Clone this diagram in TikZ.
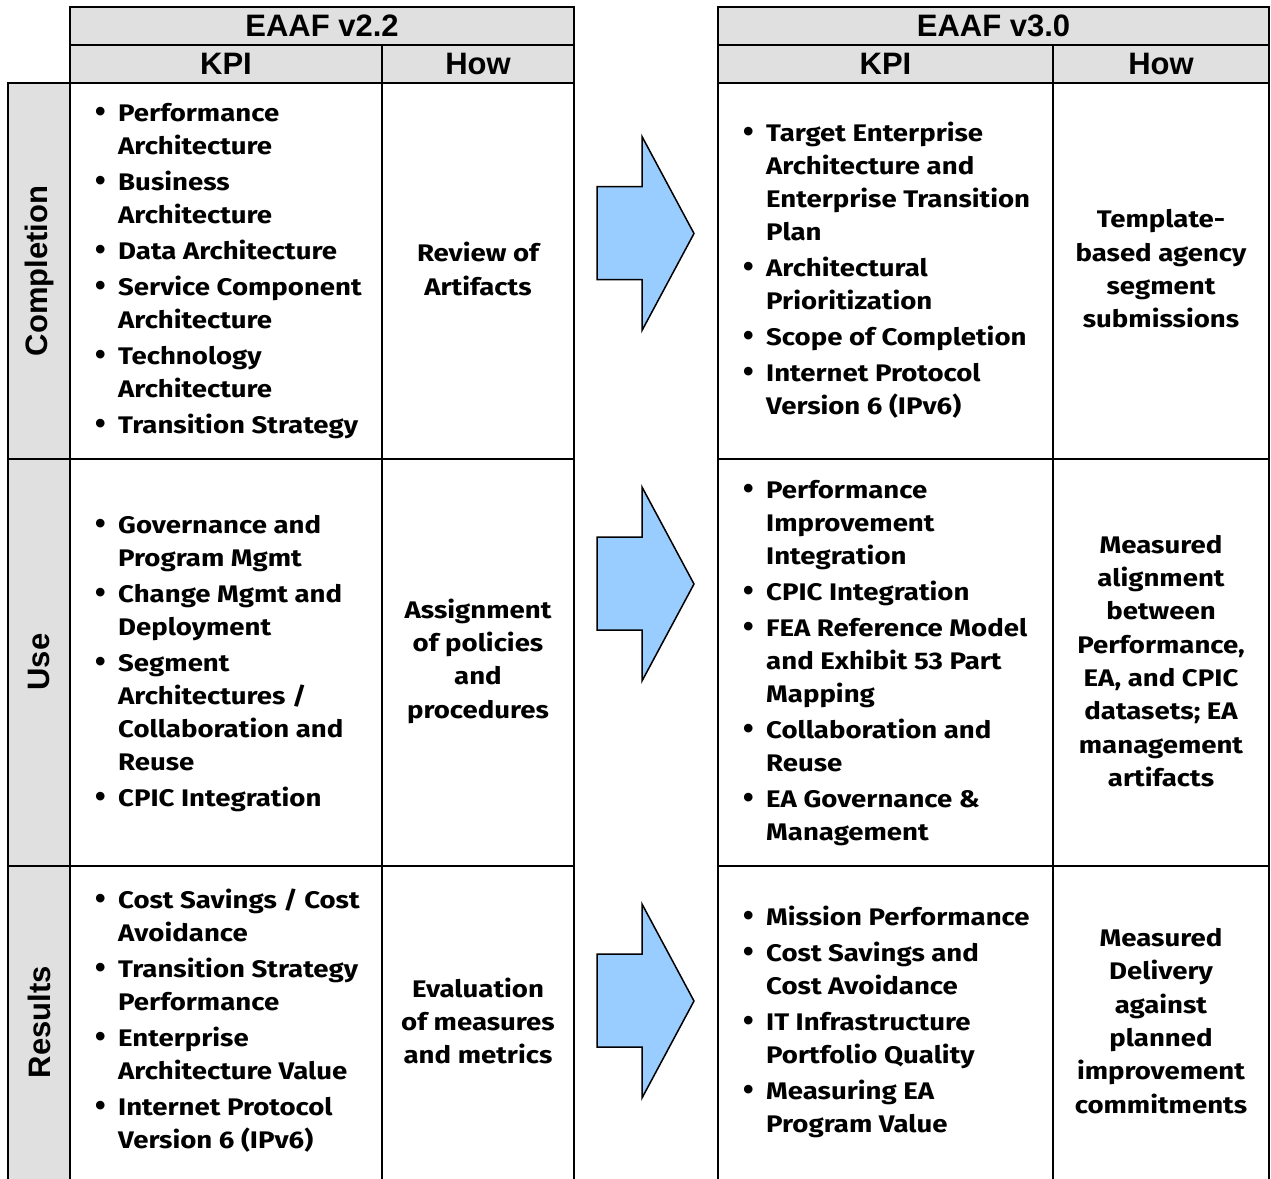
\documentclass[tikz,border=0pt]{standalone}
\usepackage{fontspec}
\setmainfont{Fira Sans}[FakeStretch=1.15]
\newfontfamily\arialf{Liberation Sans}[BoldFont={Liberation Sans Bold}]
\usepackage{array}
\definecolor{hdrgray}{HTML}{E0E0E0}
\definecolor{arrowblue}{HTML}{99CCFF}
\newcommand{\bu}{\makebox[23pt][l]{\arialf\fontsize{30}{30}\selectfont\textbullet}}
\newcommand{\kpilist}[1]{\begin{tabular}{@{}l@{}l@{}}#1\end{tabular}}
\begin{document}
\begin{tikzpicture}[x=1pt,y=-1pt,
  grid/.style={line width=2.8pt, line cap=rect},
  hdr/.style={font=\arialf\bfseries\fontsize{31}{36}\selectfont, inner sep=0pt},
  rowlab/.style={hdr, rotate=90},
  kpi/.style={font=\bfseries\fontsize{24}{33}\selectfont, inner sep=0pt, anchor=west, align=left},
  how/.style={font=\bfseries\fontsize{24}{33.3}\selectfont, inner sep=0pt, align=center},
  arr/.style={fill=arrowblue, draw=black, line width=1.5pt, line join=miter}]
\useasboundingbox (0,0) rectangle (1271,1178);
% fills
\fill[hdrgray] (70,7) rectangle (574,83);
\fill[hdrgray] (718,7) rectangle (1269,83);
\fill[hdrgray] (8,83) rectangle (70,1182);
% left grid
\draw[grid] (70,1182) -- (70,7) -- (574,7) -- (574,1182);
\draw[grid] (70,45) -- (574,45);
\draw[grid] (8,83) -- (574,83);
\draw[grid] (8,1182) -- (8,83);
\draw[grid] (382,45) -- (382,1182);
\draw[grid] (8,459) -- (574,459);
\draw[grid] (8,866) -- (574,866);
% right grid
\draw[grid] (718,1182) -- (718,7) -- (1269,7) -- (1269,1182);
\draw[grid] (718,45) -- (1269,45);
\draw[grid] (718,83) -- (1269,83);
\draw[grid] (1053,45) -- (1053,1182);
\draw[grid] (718,459) -- (1269,459);
\draw[grid] (718,866) -- (1269,866);
% arrows
\foreach \c in {233.5,584,1001}{
  \draw[arr] (694,\c) -- (642,\c-97) -- (642,\c-47) -- (597,\c-47) -- (597,\c+46)
    -- (642,\c+46) -- (642,\c+97) -- cycle;
}
% headers
\node[hdr] (h1) at (322,26) {EAAF v2.2};
\node[hdr] (h1k) at (226,64) {KPI};
\node[hdr] (h1h) at (478,64) {How};
\node[hdr] (h2) at (993.5,26) {EAAF v3.0};
\node[hdr] (h2k) at (885.5,64) {KPI};
\node[hdr] (h2h) at (1161,64) {How};
% row labels
\node[rowlab] (rc) at (39,271) {Completion};
\node[rowlab] (ru) at (39,662) {Use};
\node[rowlab] (rr) at (39,1022) {Results};
% left completion
\node[kpi] (lck) at (95,271) {\kpilist{%
\bu & Performance\\ & Architecture\\[3pt]
\bu & Business\\ & Architecture\\[3pt]
\bu & Data Architecture\\[3pt]
\bu & Service Component\\ & Architecture\\[3pt]
\bu & Technology\\ & Architecture\\[3pt]
\bu & Transition Strategy}};
\node[how] (lch) at (478,269) {Review of\\Artifacts};
% right completion
\node[kpi] (rck) at (743,271) {\kpilist{%
\bu & Target Enterprise\\ & Architecture and\\ & Enterprise Transition\\ & Plan\\[3pt]
\bu & Architectural\\ & Prioritization\\[3pt]
\bu & Scope of Completion\\[3pt]
\bu & Internet Protocol\\ & Version 6 (IPv6)}};
\node[how] (rch) at (1161,269) {Template-\\based agency\\segment\\submissions};
% left use
\node[kpi] (luk) at (95,663) {\kpilist{%
\bu & Governance and\\ & Program Mgmt\\[3pt]
\bu & Change Mgmt and\\ & Deployment\\[3pt]
\bu & Segment\\ & Architectures /\\ & Collaboration and\\ & Reuse\\[3pt]
\bu & CPIC Integration}};
\node[how] (luh) at (478,661) {Assignment\\of policies\\and\\procedures};
% right use
\node[kpi] (ruk) at (743,663) {\kpilist{%
\bu & Performance\\ & Improvement\\ & Integration\\[3pt]
\bu & CPIC Integration\\[3pt]
\bu & FEA Reference Model\\ & and Exhibit 53 Part\\ & Mapping\\[3pt]
\bu & Collaboration and\\ & Reuse\\[3pt]
\bu & EA Governance \&\\ & Management}};
\node[how] (ruh) at (1161,661) {Measured\\alignment\\between\\Performance,\\EA, and CPIC\\datasets; EA\\management\\artifacts};
% left results
\node[kpi] (lrk) at (95,1022) {\kpilist{%
\bu & Cost Savings / Cost\\ & Avoidance\\[3pt]
\bu & Transition Strategy\\ & Performance\\[3pt]
\bu & Enterprise\\ & Architecture Value\\[3pt]
\bu & Internet Protocol\\ & Version 6 (IPv6)}};
\node[how] (lrh) at (478,1021) {Evaluation\\of measures\\and metrics};
% right results
\node[kpi] (rrk) at (743,1022) {\kpilist{%
\bu & Mission Performance\\[3pt]
\bu & Cost Savings and\\ & Cost Avoidance\\[3pt]
\bu & IT Infrastructure\\ & Portfolio Quality\\[3pt]
\bu & Measuring EA\\ & Program Value}};
\node[how] (rrh) at (1161,1021) {Measured\\Delivery\\against\\planned\\improvement\\commitments};
\end{tikzpicture}
\end{document}
